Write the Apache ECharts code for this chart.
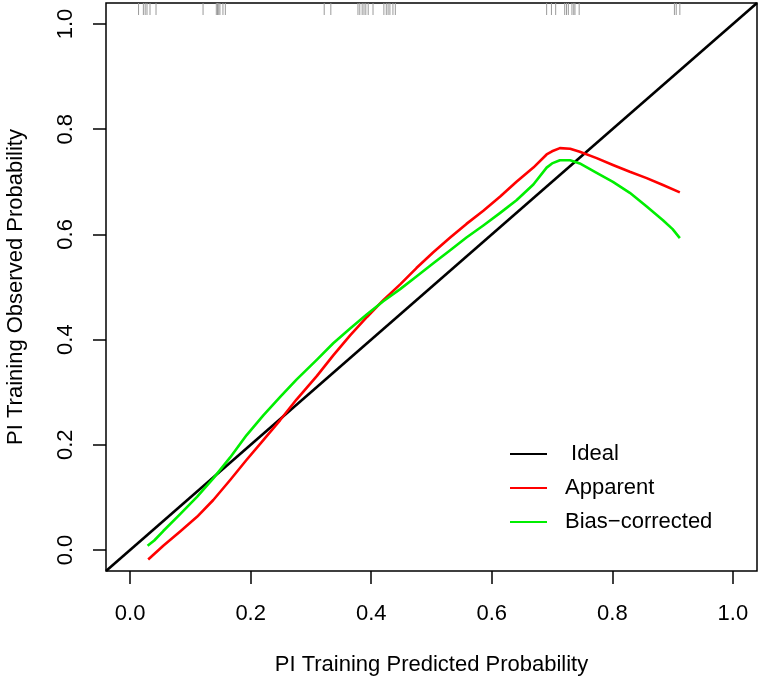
<!DOCTYPE html>
<html>
<head>
<meta charset="utf-8">
<script src="https://cdn.jsdelivr.net/npm/echarts@6/dist/echarts.min.js"></script>
<style>
html,body{margin:0;padding:0;background:#fff;}
#chart{width:760px;height:682px;}
</style>
</head>
<body>
<div id="chart"></div>
<script>
// ---- data ----
const tickValues = [0.0, 0.2, 0.4, 0.6, 0.8, 1.0];
const axisMin = -0.04;
const axisMax = 1.04;

const idealX = [-0.04, 1.04];
const idealY = [-0.04, 1.04];

const apparentX = [0.030, 0.055, 0.083, 0.111, 0.138, 0.166, 0.193, 0.221, 0.249, 0.276, 0.310, 0.337, 0.365, 0.393, 0.420, 0.448, 0.475, 0.503, 0.531, 0.558, 0.586, 0.614, 0.641, 0.669, 0.691, 0.700, 0.713, 0.730, 0.746, 0.774, 0.801, 0.829, 0.857, 0.884, 0.912];
const apparentY = [-0.018, 0.008, 0.035, 0.063, 0.095, 0.133, 0.171, 0.209, 0.247, 0.286, 0.331, 0.370, 0.408, 0.443, 0.475, 0.505, 0.536, 0.566, 0.594, 0.620, 0.645, 0.672, 0.700, 0.727, 0.752, 0.758, 0.764, 0.763, 0.757, 0.745, 0.732, 0.719, 0.707, 0.694, 0.680];

const biasX = [0.029, 0.040, 0.055, 0.083, 0.111, 0.138, 0.166, 0.193, 0.221, 0.249, 0.276, 0.310, 0.337, 0.365, 0.393, 0.420, 0.448, 0.475, 0.503, 0.531, 0.558, 0.586, 0.614, 0.641, 0.669, 0.691, 0.700, 0.713, 0.730, 0.746, 0.774, 0.801, 0.829, 0.857, 0.884, 0.900, 0.912];
const biasY = [0.008, 0.018, 0.036, 0.068, 0.101, 0.136, 0.176, 0.218, 0.256, 0.291, 0.324, 0.362, 0.393, 0.421, 0.448, 0.473, 0.496, 0.520, 0.545, 0.570, 0.594, 0.617, 0.641, 0.665, 0.695, 0.727, 0.735, 0.741, 0.741, 0.735, 0.717, 0.700, 0.679, 0.653, 0.627, 0.610, 0.593];

const rugX = [0.014, 0.022, 0.025, 0.028, 0.033, 0.043, 0.121, 0.143, 0.145, 0.147, 0.149, 0.154, 0.158, 0.322, 0.333, 0.378, 0.381, 0.385, 0.388, 0.391, 0.395, 0.403, 0.421, 0.425, 0.428, 0.431, 0.436, 0.440, 0.691, 0.699, 0.706, 0.721, 0.724, 0.727, 0.733, 0.736, 0.738, 0.745, 0.903, 0.906, 0.912];

const legendNames = [' Ideal', 'Apparent', 'Bias\u2212corrected'];
const xTitle = 'PI Training Predicted Probability';
const yTitle = 'PI Training Observed Probability';

// ---- chart ----
const FONT = '"Liberation Sans", Arial, Helvetica, sans-serif';
const zip = (xs, ys) => xs.map((x, i) => [x, ys[i]]);

const chart = echarts.init(document.getElementById('chart'), null, {renderer: 'canvas'});

function makeAxis(name, gap) {
  return {
    type: 'value',
    min: axisMin,
    max: axisMax,
    name: name,
    nameLocation: 'middle',
    nameGap: gap,
    nameTextStyle: {fontSize: 22, color: '#000', fontFamily: FONT},
    splitLine: {show: false},
    axisLine: {show: false, onZero: false},
    axisTick: {show: true, inside: false, length: 13, customValues: tickValues,
      lineStyle: {color: '#000', width: 1.5}},
    axisLabel: {show: true, customValues: tickValues, fontSize: 22, color: '#000',
      fontFamily: FONT, formatter: v => Number(v).toFixed(1)}
  };
}

const xAxis = makeAxis(xTitle, 83);
xAxis.axisLabel.margin = 32;
const yAxis = makeAxis(yTitle, 79);
yAxis.axisLabel.rotate = 90;
yAxis.axisLabel.margin = 29;

const lineCommon = {type: 'line', showSymbol: false, symbol: 'none', smooth: false};

const option = {
  backgroundColor: '#fff',
  animation: false,
  grid: {left: 106, top: 3, width: 651, height: 568, show: true,
    borderColor: '#000', borderWidth: 1.5, backgroundColor: 'transparent',
    outerBoundsMode: 'none', containLabel: false},
  xAxis: xAxis,
  yAxis: yAxis,
  legend: {
    data: legendNames,
    orient: 'vertical',
    left: 510,
    top: 443,
    padding: 0,
    icon: 'rect',
    itemWidth: 37,
    itemHeight: 2,
    itemGap: 12,
    textStyle: {fontSize: 22, color: '#000', fontFamily: FONT, lineHeight: 22,
      padding: [0, 0, 0, 13]},
    selectedMode: false
  },
  series: [
    {
      name: 'rug',
      type: 'custom',
      data: rugX.map(v => [v]),
      encode: {x: 0},
      silent: true,
      renderItem: function (params, api) {
        const p = api.coord([api.value(0), axisMax]);
        return {type: 'line', shape: {x1: p[0], y1: p[1], x2: p[0], y2: p[1] + 12},
          style: {stroke: '#9a9a9a', lineWidth: 1}};
      }
    },
    {
      name: ' Ideal', type: 'line', data: zip(idealX, idealY), showSymbol: false,
      symbol: 'none', lineStyle: {color: '#000', width: 2.6}, itemStyle: {color: '#000'}
    },
    Object.assign({}, lineCommon, {
      name: 'Apparent', data: zip(apparentX, apparentY),
      lineStyle: {color: '#ff0000', width: 2.6, join: 'round'}, itemStyle: {color: '#ff0000'}
    }),
    Object.assign({}, lineCommon, {
      name: 'Bias\u2212corrected', data: zip(biasX, biasY),
      lineStyle: {color: '#00ee00', width: 2.6, join: 'round'}, itemStyle: {color: '#00ee00'}
    })
  ]
};
chart.setOption(option);
</script>
</body>
</html>
